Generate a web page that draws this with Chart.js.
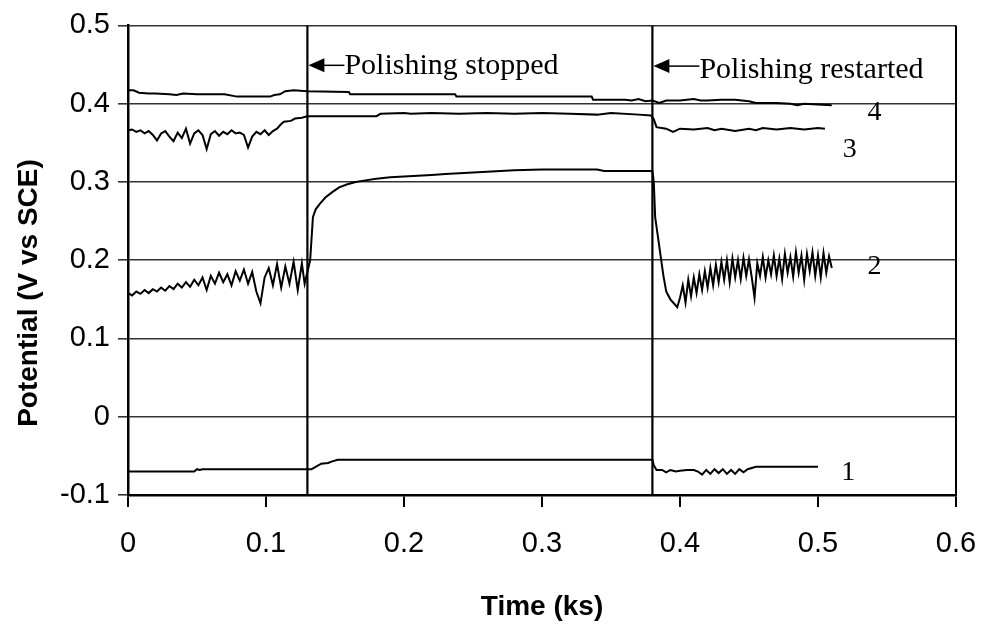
<!DOCTYPE html>
<html>
<head>
<meta charset="utf-8">
<script src="https://cdn.jsdelivr.net/npm/chart.js@4.4.1/dist/chart.umd.min.js"></script>
<style>
  html, body { margin: 0; padding: 0; background: #fff; }
  #wrap { width: 983px; height: 628px; }
</style>
</head>
<body>
<div id="wrap"><canvas id="potChart" width="983" height="628"></canvas></div>
<script>
// axis ranges / ticks
const xTicks = [0, 0.1, 0.2, 0.3, 0.4, 0.5, 0.6];
const yTicks = [-0.1, 0, 0.1, 0.2, 0.3, 0.4, 0.5];

// events (ks)
const eventTimes = [0.13, 0.38];
const eventNames = ['Polishing stopped', 'Polishing restarted'];

// curve numbers
const curveNames = ['1', '2', '3', '4'];

// curve 1
const t1 = [0, 0.048, 0.050, 0.052, 0.054, 0.133, 0.136, 0.140, 0.145, 0.148, 0.152, 0.380,
  0.381, 0.383, 0.387, 0.390, 0.393, 0.397, 0.400, 0.405, 0.410, 0.413, 0.416, 0.419, 0.422,
  0.425, 0.428, 0.431, 0.434, 0.437, 0.440, 0.443, 0.446, 0.449, 0.455, 0.500];
const v1 = [-0.070, -0.070, -0.067, -0.068, -0.067, -0.067, -0.064, -0.060, -0.059, -0.057, -0.055, -0.055,
  -0.062, -0.068, -0.068, -0.071, -0.068, -0.070, -0.069, -0.068, -0.068, -0.070, -0.074, -0.068, -0.073,
  -0.067, -0.072, -0.067, -0.073, -0.068, -0.073, -0.067, -0.071, -0.067, -0.064, -0.064];

// curve 2
const t2 = [0, 0.003, 0.006, 0.009, 0.012, 0.015, 0.018, 0.021, 0.024, 0.027, 0.030, 0.033, 0.036,
  0.039, 0.042, 0.045, 0.048, 0.051, 0.054, 0.057, 0.060, 0.063, 0.066, 0.069, 0.072, 0.075, 0.078,
  0.081, 0.084, 0.087, 0.090, 0.093, 0.096, 0.099, 0.102, 0.105, 0.108, 0.111, 0.114, 0.117, 0.120,
  0.123, 0.126, 0.128, 0.130, 0.132, 0.134, 0.136, 0.139, 0.143, 0.148, 0.153, 0.159, 0.165, 0.172,
  0.180, 0.190, 0.200, 0.210, 0.220, 0.230, 0.240, 0.250, 0.260, 0.270, 0.280, 0.300, 0.340, 0.345,
  0.379,
  0.380, 0.381, 0.382, 0.384, 0.386, 0.388, 0.390, 0.393, 0.396, 0.398, 0.400, 0.402, 0.404, 0.406,
  0.408, 0.410, 0.412, 0.414, 0.416, 0.418, 0.420, 0.422, 0.424, 0.426, 0.428, 0.430, 0.432, 0.434,
  0.436, 0.438, 0.440, 0.442, 0.444, 0.446, 0.448, 0.450, 0.452, 0.454, 0.456, 0.458, 0.460, 0.462,
  0.464, 0.466, 0.468, 0.470, 0.472, 0.474, 0.476, 0.478, 0.480, 0.482, 0.484, 0.486, 0.488, 0.490,
  0.492, 0.494, 0.496, 0.498, 0.500, 0.502, 0.504, 0.506, 0.508, 0.510];
const v2 = [0.158, 0.155, 0.160, 0.157, 0.162, 0.158, 0.163, 0.160, 0.165, 0.161, 0.167, 0.163, 0.170,
  0.165, 0.172, 0.166, 0.175, 0.168, 0.178, 0.162, 0.180, 0.170, 0.184, 0.172, 0.182, 0.168, 0.186,
  0.174, 0.188, 0.170, 0.185, 0.160, 0.145, 0.178, 0.190, 0.168, 0.195, 0.165, 0.192, 0.170, 0.198,
  0.162, 0.196, 0.170, 0.185, 0.200, 0.255, 0.265, 0.272, 0.280, 0.287, 0.293, 0.297, 0.300, 0.302,
  0.304, 0.306, 0.307, 0.308, 0.309, 0.310, 0.311, 0.312, 0.313, 0.314, 0.315, 0.316, 0.316, 0.314,
  0.314,
  0.314, 0.300, 0.255, 0.230, 0.205, 0.180, 0.160, 0.150, 0.144, 0.140, 0.152, 0.168, 0.146, 0.175,
  0.154, 0.178, 0.158, 0.182, 0.162, 0.186, 0.165, 0.190, 0.168, 0.194, 0.172, 0.198, 0.175, 0.200,
  0.172, 0.202, 0.178, 0.200, 0.176, 0.203, 0.180, 0.201, 0.178, 0.152, 0.196, 0.180, 0.204, 0.178,
  0.200, 0.182, 0.206, 0.180, 0.202, 0.176, 0.208, 0.184, 0.204, 0.179, 0.210, 0.184, 0.206, 0.175,
  0.208, 0.186, 0.210, 0.180, 0.206, 0.178, 0.209, 0.184, 0.205, 0.190];

// curve 3
const t3 = [0, 0.003, 0.006, 0.009, 0.012, 0.015, 0.018, 0.021, 0.024, 0.027, 0.030, 0.033, 0.036,
  0.039, 0.042, 0.045, 0.048, 0.051, 0.054, 0.057, 0.060, 0.063, 0.066, 0.069, 0.072, 0.075, 0.078,
  0.081, 0.084, 0.087, 0.090, 0.093, 0.096, 0.099, 0.102, 0.105, 0.108, 0.111, 0.113, 0.118, 0.121,
  0.126, 0.130, 0.140, 0.180, 0.183, 0.200, 0.205, 0.220, 0.240, 0.260, 0.280, 0.300, 0.320, 0.340,
  0.350, 0.370, 0.379, 0.381, 0.383, 0.390, 0.395, 0.400, 0.410, 0.420, 0.425, 0.430, 0.440, 0.450,
  0.455, 0.460, 0.470, 0.480, 0.490, 0.500, 0.505];
const v3 = [0.366, 0.367, 0.364, 0.366, 0.362, 0.365, 0.360, 0.353, 0.362, 0.365, 0.358, 0.352, 0.363,
  0.356, 0.368, 0.349, 0.362, 0.366, 0.360, 0.342, 0.361, 0.365, 0.359, 0.364, 0.361, 0.366, 0.362,
  0.363, 0.360, 0.344, 0.358, 0.364, 0.361, 0.366, 0.360, 0.365, 0.368, 0.374, 0.377, 0.378, 0.381,
  0.382, 0.384, 0.384, 0.384, 0.387, 0.388, 0.387, 0.388, 0.387, 0.388, 0.387, 0.388, 0.387, 0.386,
  0.388, 0.386, 0.385, 0.380, 0.370, 0.368, 0.364, 0.368, 0.367, 0.369, 0.366, 0.368, 0.365, 0.368,
  0.366, 0.369, 0.367, 0.369, 0.367, 0.369, 0.368];

// curve 4
const t4 = [0, 0.004, 0.008, 0.015, 0.020, 0.030, 0.035, 0.040, 0.050, 0.060, 0.070, 0.079, 0.085,
  0.095, 0.103, 0.106, 0.110, 0.114, 0.120, 0.130, 0.160, 0.161, 0.237, 0.238, 0.336, 0.337, 0.360,
  0.365, 0.370, 0.375, 0.380, 0.385, 0.390, 0.400, 0.410, 0.415, 0.420, 0.430, 0.440, 0.450, 0.455,
  0.460, 0.470, 0.480, 0.485, 0.490, 0.500, 0.510];
const v4 = [0.417, 0.417, 0.414, 0.413, 0.413, 0.412, 0.411, 0.413, 0.412, 0.412, 0.412, 0.409, 0.409,
  0.409, 0.409, 0.411, 0.412, 0.416, 0.417, 0.416, 0.415, 0.412, 0.412, 0.409, 0.409, 0.405, 0.405,
  0.404, 0.406, 0.403, 0.404, 0.401, 0.404, 0.404, 0.406, 0.404, 0.404, 0.405, 0.405, 0.403, 0.401,
  0.401, 0.401, 0.400, 0.398, 0.400, 0.399, 0.398];

function pts(t, v) {
    return t.map(function(x, i) { return { x: x, y: v[i] }; });
}

const curves = [pts(t1, v1), pts(t2, v2), pts(t3, v3), pts(t4, v4)];

const datasets = curves.map(function(d, i) {
    return {
        label: curveNames[i],
        data: d,
        borderColor: '#000',
        borderWidth: 2,
        pointRadius: 0,
        tension: 0
    };
});
eventTimes.forEach(function(t, i) {
    datasets.push({
        label: eventNames[i],
        data: [{ x: t, y: yTicks[0] }, { x: t, y: yTicks[yTicks.length - 1] }],
        borderColor: '#000',
        borderWidth: 2.2,
        pointRadius: 0
    });
});

// where the curve numbers sit (data units)
const curveTagX = [0.522, 0.541, 0.523, 0.541];
const curveTagY = [-0.072, 0.192, 0.341, 0.388];

const decorations = {
    id: 'decorations',
    afterDraw: function(chart) {
        const ctx = chart.ctx;
        const xs = chart.scales.x, ys = chart.scales.y;
        const area = chart.chartArea;
        ctx.save();

        // right border of the plot
        ctx.strokeStyle = '#000';
        ctx.lineWidth = 2;
        ctx.beginPath();
        ctx.moveTo(area.right, area.top);
        ctx.lineTo(area.right, area.bottom);
        ctx.stroke();

        // event arrows + notes
        ctx.fillStyle = '#000';
        ctx.font = '30px "Liberation Serif", "Times New Roman", serif';
        ctx.textBaseline = 'alphabetic';
        ctx.textAlign = 'left';
        const gaps = [37, 47];
        const ay = [ys.getPixelForValue(0.449), ys.getPixelForValue(0.448)];
        eventTimes.forEach(function(t, i) {
            const px = xs.getPixelForValue(t);
            const y = ay[i];
            ctx.beginPath();
            ctx.moveTo(px + 1, y);
            ctx.lineTo(px + 17, y - 7);
            ctx.lineTo(px + 17, y + 7);
            ctx.closePath();
            ctx.fill();
            ctx.lineWidth = 1.5;
            ctx.beginPath();
            ctx.moveTo(px + 16, y);
            ctx.lineTo(px + gaps[i], y);
            ctx.stroke();
            ctx.fillText(eventNames[i], px + gaps[i], y + 9 + i * 3);
        });

        // curve numbers
        ctx.font = '28px "Liberation Serif", "Times New Roman", serif';
        ctx.textAlign = 'center';
        ctx.textBaseline = 'middle';
        curveNames.forEach(function(n, i) {
            ctx.fillText(n, xs.getPixelForValue(curveTagX[i]), ys.getPixelForValue(curveTagY[i]));
        });

        // axis titles
        ctx.font = 'bold 28px "Liberation Sans", Arial, sans-serif';
        ctx.fillText('Time (ks)', (area.left + area.right) / 2, 607);
        ctx.translate(29, 293);
        ctx.rotate(-Math.PI / 2);
        ctx.fillText('Potential (V vs SCE)', 0, 0);
        ctx.restore();
    }
};

const tickFont = { family: '"Liberation Sans", Arial, sans-serif', size: 29 };

new Chart(document.getElementById('potChart').getContext('2d'), {
    type: 'line',
    data: { datasets: datasets },
    options: {
        responsive: false,
        animation: false,
        layout: { padding: { top: 24, right: 0, left: 0, bottom: 0 } },
        plugins: {
            legend: { display: false },
            tooltip: { enabled: false }
        },
        scales: {
            x: {
                type: 'linear',
                min: xTicks[0],
                max: xTicks[xTicks.length - 1],
                afterFit: function(s) {
                    s.height = 133;
                    s.paddingLeft = 0;
                    s.paddingRight = 27;
                },
                afterBuildTicks: function(s) { s.ticks = xTicks.map(function(v) { return { value: v }; }); },
                ticks: { font: tickFont, color: '#000', padding: 20, maxRotation: 0 },
                grid: { drawOnChartArea: false, drawTicks: true, tickLength: 12, color: '#000', lineWidth: 2 },
                border: { color: '#000', width: 2.5 }
            },
            y: {
                min: yTicks[0],
                max: yTicks[yTicks.length - 1],
                afterFit: function(s) { s.width = 128; },
                afterBuildTicks: function(s) { s.ticks = yTicks.map(function(v) { return { value: v }; }); },
                ticks: { font: tickFont, color: '#000', padding: 8 },
                grid: { color: '#333', lineWidth: 1.6, tickLength: 10 },
                border: { color: '#000', width: 2.5 }
            }
        }
    },
    plugins: [decorations]
});
</script>
</body>
</html>
